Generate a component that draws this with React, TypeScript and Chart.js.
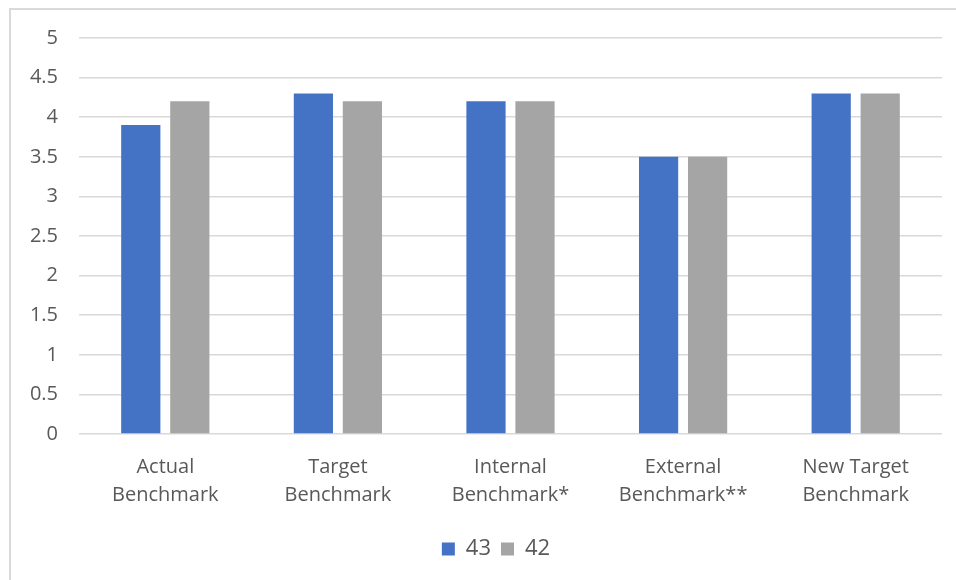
import React, { useEffect, useRef } from "react";
import { Chart, registerables } from "chart.js";

Chart.register(...registerables);

// Benchmark categories (two-line labels on the x axis)
const categories: string[][] = [
  ["Actual", "Benchmark"],
  ["Target", "Benchmark"],
  ["Internal", "Benchmark*"],
  ["External", "Benchmark**"],
  ["New Target", "Benchmark"],
];

// Series values
const series43: number[] = [3.9, 4.3, 4.2, 3.5, 4.3];
const series42: number[] = [4.2, 4.2, 4.2, 3.5, 4.3];

// Value axis tick labels
const yTickLabels: string[] = ["0", "0.5", "1", "1.5", "2", "2.5", "3", "3.5", "4", "4.5", "5"];

const FONT = "'Open Sans', sans-serif";
const TEXT = "#595959";
const GRID = "#D9D9D9";

// Nudge the legend so it sits centred under the plot rather than the canvas
const legendShift = {
  id: "legendShift",
  afterLayout(chart: any) {
    const lg = chart.legend;
    if (!lg) return;
    lg.left += 20;
    lg.right += 20;
  },
};

export default function App() {
  const canvasRef = useRef<HTMLCanvasElement | null>(null);

  useEffect(() => {
    if (!canvasRef.current) return;
    const chart = new Chart(canvasRef.current, {
      type: "bar",
      data: {
        labels: categories,
        datasets: [
          {
            label: "43",
            data: series43,
            backgroundColor: "#4472C4",
            categoryPercentage: 0.568,
            barPercentage: 0.8,
          },
          {
            label: "42",
            data: series42,
            backgroundColor: "#A5A5A5",
            categoryPercentage: 0.568,
            barPercentage: 0.8,
          },
        ],
      },
      options: {
        responsive: false,
        animation: false,
        layout: { padding: { left: 10, top: 38, right: 14, bottom: 10 } },
        plugins: {
          tooltip: { enabled: false },
          legend: {
            position: "bottom",
            labels: {
              boxWidth: 13,
              boxHeight: 13,
              padding: 10,
              color: TEXT,
              font: { family: FONT, size: 22 },
            },
          },
        },
        scales: {
          x: {
            grid: { display: false },
            border: { display: false },
            ticks: {
              color: TEXT,
              padding: 11,
              maxRotation: 0,
              font: { family: FONT, size: 20, lineHeight: 1.4 },
            },
            afterFit: (scale: any) => {
              scale.height = 94;
            },
          },
          y: {
            min: 0,
            max: 5,
            grid: { color: GRID, lineWidth: 1.5, drawTicks: false },
            border: { display: false },
            ticks: {
              stepSize: 0.5,
              color: TEXT,
              padding: 21,
              font: { family: FONT, size: 20 },
              callback: (_v: any, i: number) => yTickLabels[i],
            },
            afterFit: (scale: any) => {
              scale.width = 69;
            },
          },
        },
      },
      plugins: [legendShift],
    });
    return () => chart.destroy();
  }, []);

  return (
    <div
      style={{
        position: "fixed",
        left: 0,
        top: 0,
        width: 956,
        height: 580,
        background: "#ffffff",
        overflow: "hidden",
      }}
    >
      <div
        style={{
          position: "absolute",
          left: 9,
          top: 8,
          width: 980,
          height: 600,
          border: "2px solid #D9D9D9",
          boxSizing: "border-box",
        }}
      />
      <canvas
        ref={canvasRef}
        width={956}
        height={580}
        style={{ position: "absolute", left: 0, top: 0, width: 956, height: 580 }}
      />
    </div>
  );
}
